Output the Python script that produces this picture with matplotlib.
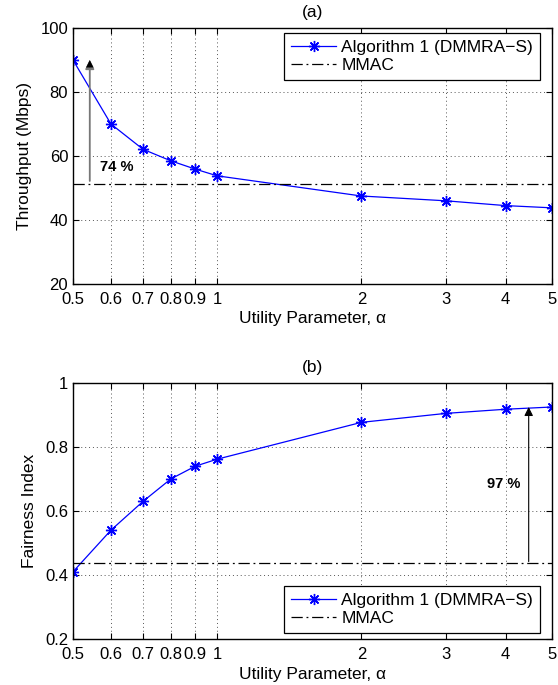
import matplotlib
matplotlib.use('Agg')
from matplotlib import pyplot as plt
from matplotlib.ticker import FixedLocator, FixedFormatter, NullLocator

plt.rcParams['font.family'] = ['Liberation Sans', 'DejaVu Sans']
plt.rcParams['font.size'] = 12

alpha = [0.5, 0.6, 0.7, 0.8, 0.9, 1, 2, 3, 4, 5]
alpha_ticks = [0.5, 0.6, 0.7, 0.8, 0.9, 1, 2, 3, 4, 5]
alpha_labels = ['0.5', '0.6', '0.7', '0.8', '0.9', '1', '2', '3', '4', '5']

throughput = [90.0, 70.0, 62.1, 58.5, 55.9, 53.8, 47.5, 46.0, 44.5, 43.8]
throughput_mmac = 51.2
fairness = [0.41, 0.54, 0.63, 0.70, 0.74, 0.762, 0.877, 0.905, 0.918, 0.925]
fairness_mmac = 0.437

fig = plt.figure(figsize=(5.58, 6.85), dpi=100)
W, H = 558.0, 685.0
ax1 = fig.add_axes([73 / W, 1 - 284 / H, 479 / W, 256 / H])
ax2 = fig.add_axes([73 / W, 1 - 639 / H, 479 / W, 256 / H])

asterisk = (8, 2, 0)
dashdot = (0, (9, 3, 1.5, 3))


def style(ax, yticks, ylim):
    ax.set_xscale('log')
    ax.set_xlim(0.5, 5)
    ax.xaxis.set_major_locator(FixedLocator(alpha_ticks))
    ax.xaxis.set_major_formatter(FixedFormatter(alpha_labels))
    ax.xaxis.set_minor_locator(NullLocator())
    ax.set_ylim(*ylim)
    ax.set_yticks(yticks)
    ax.grid(True, linestyle=(0, (1, 3)), color='#555555', linewidth=0.7)
    ax.tick_params(direction='in', top=True, right=True, length=4, labelsize=12)
    ax.tick_params(axis='x', pad=6)
    for s in ax.spines.values():
        s.set_linewidth(1.0)
    ax.set_xlabel('Utility Parameter, α', fontsize=12.5, labelpad=3)


def legend(ax, loc, anchor):
    leg = ax.legend(loc=loc, bbox_to_anchor=anchor, fontsize=12.5, fancybox=False,
                    edgecolor='black', framealpha=1, borderaxespad=0, handlelength=2.6,
                    borderpad=0.4, labelspacing=0.15, handletextpad=0.3)
    leg.get_frame().set_linewidth(0.9)


# (a) throughput
ax1.plot(alpha, throughput, color='blue', marker=asterisk, markersize=8, markeredgewidth=1,
         linewidth=0.9, label='Algorithm 1 (DMMRA−S)')
ax1.axhline(throughput_mmac, color='black', linestyle=dashdot, linewidth=0.9, label='MMAC')
style(ax1, [20, 40, 60, 80, 100], (20, 100))
ax1.set_yticklabels(['20', '40', '60', '80', '100'])
ax1.set_ylabel('Throughput (Mbps)', fontsize=12.5, labelpad=6)
ax1.set_title('(a)', fontsize=12.5, pad=8)
ax1.annotate('', xy=(0.542, 90), xytext=(0.542, throughput_mmac + 1),
             arrowprops=dict(arrowstyle='-|>', color='#777777', lw=1.3,
                             mutation_scale=13, shrinkA=0, shrinkB=0))
ax1.annotate('', xy=(0.542, 90), xytext=(0.542, 87.5),
             arrowprops=dict(arrowstyle='-|>', color='black', lw=0.1,
                             mutation_scale=13, shrinkA=0, shrinkB=0))
ax1.text(0.57, 56.5, '74 %', fontsize=10.5, fontweight='bold', va='center', ha='left')
legend(ax1, 'upper right', (0.975, 0.98))

# (b) fairness
ax2.plot(alpha, fairness, color='blue', marker=asterisk, markersize=8, markeredgewidth=1,
         linewidth=0.9, label='Algorithm 1 (DMMRA−S)')
ax2.axhline(fairness_mmac, color='black', linestyle=dashdot, linewidth=0.9, label='MMAC')
style(ax2, [0.2, 0.4, 0.6, 0.8, 1.0], (0.2, 1.0))
ax2.set_yticklabels(['0.2', '0.4', '0.6', '0.8', '1'])
ax2.set_ylabel('Fairness Index', fontsize=12.5, labelpad=6)
ax2.set_title('(b)', fontsize=12.5, pad=8)
ax2.annotate('', xy=(4.47, 0.925), xytext=(4.47, fairness_mmac + 0.005),
             arrowprops=dict(arrowstyle='-|>', color='black', lw=0.8,
                             mutation_scale=13, shrinkA=0, shrinkB=0))
ax2.text(4.29, 0.684, '97 %', fontsize=10.5, fontweight='bold', va='center', ha='right')
legend(ax2, 'lower right', (0.975, 0.023))

fig.savefig('out.png', dpi=100)
